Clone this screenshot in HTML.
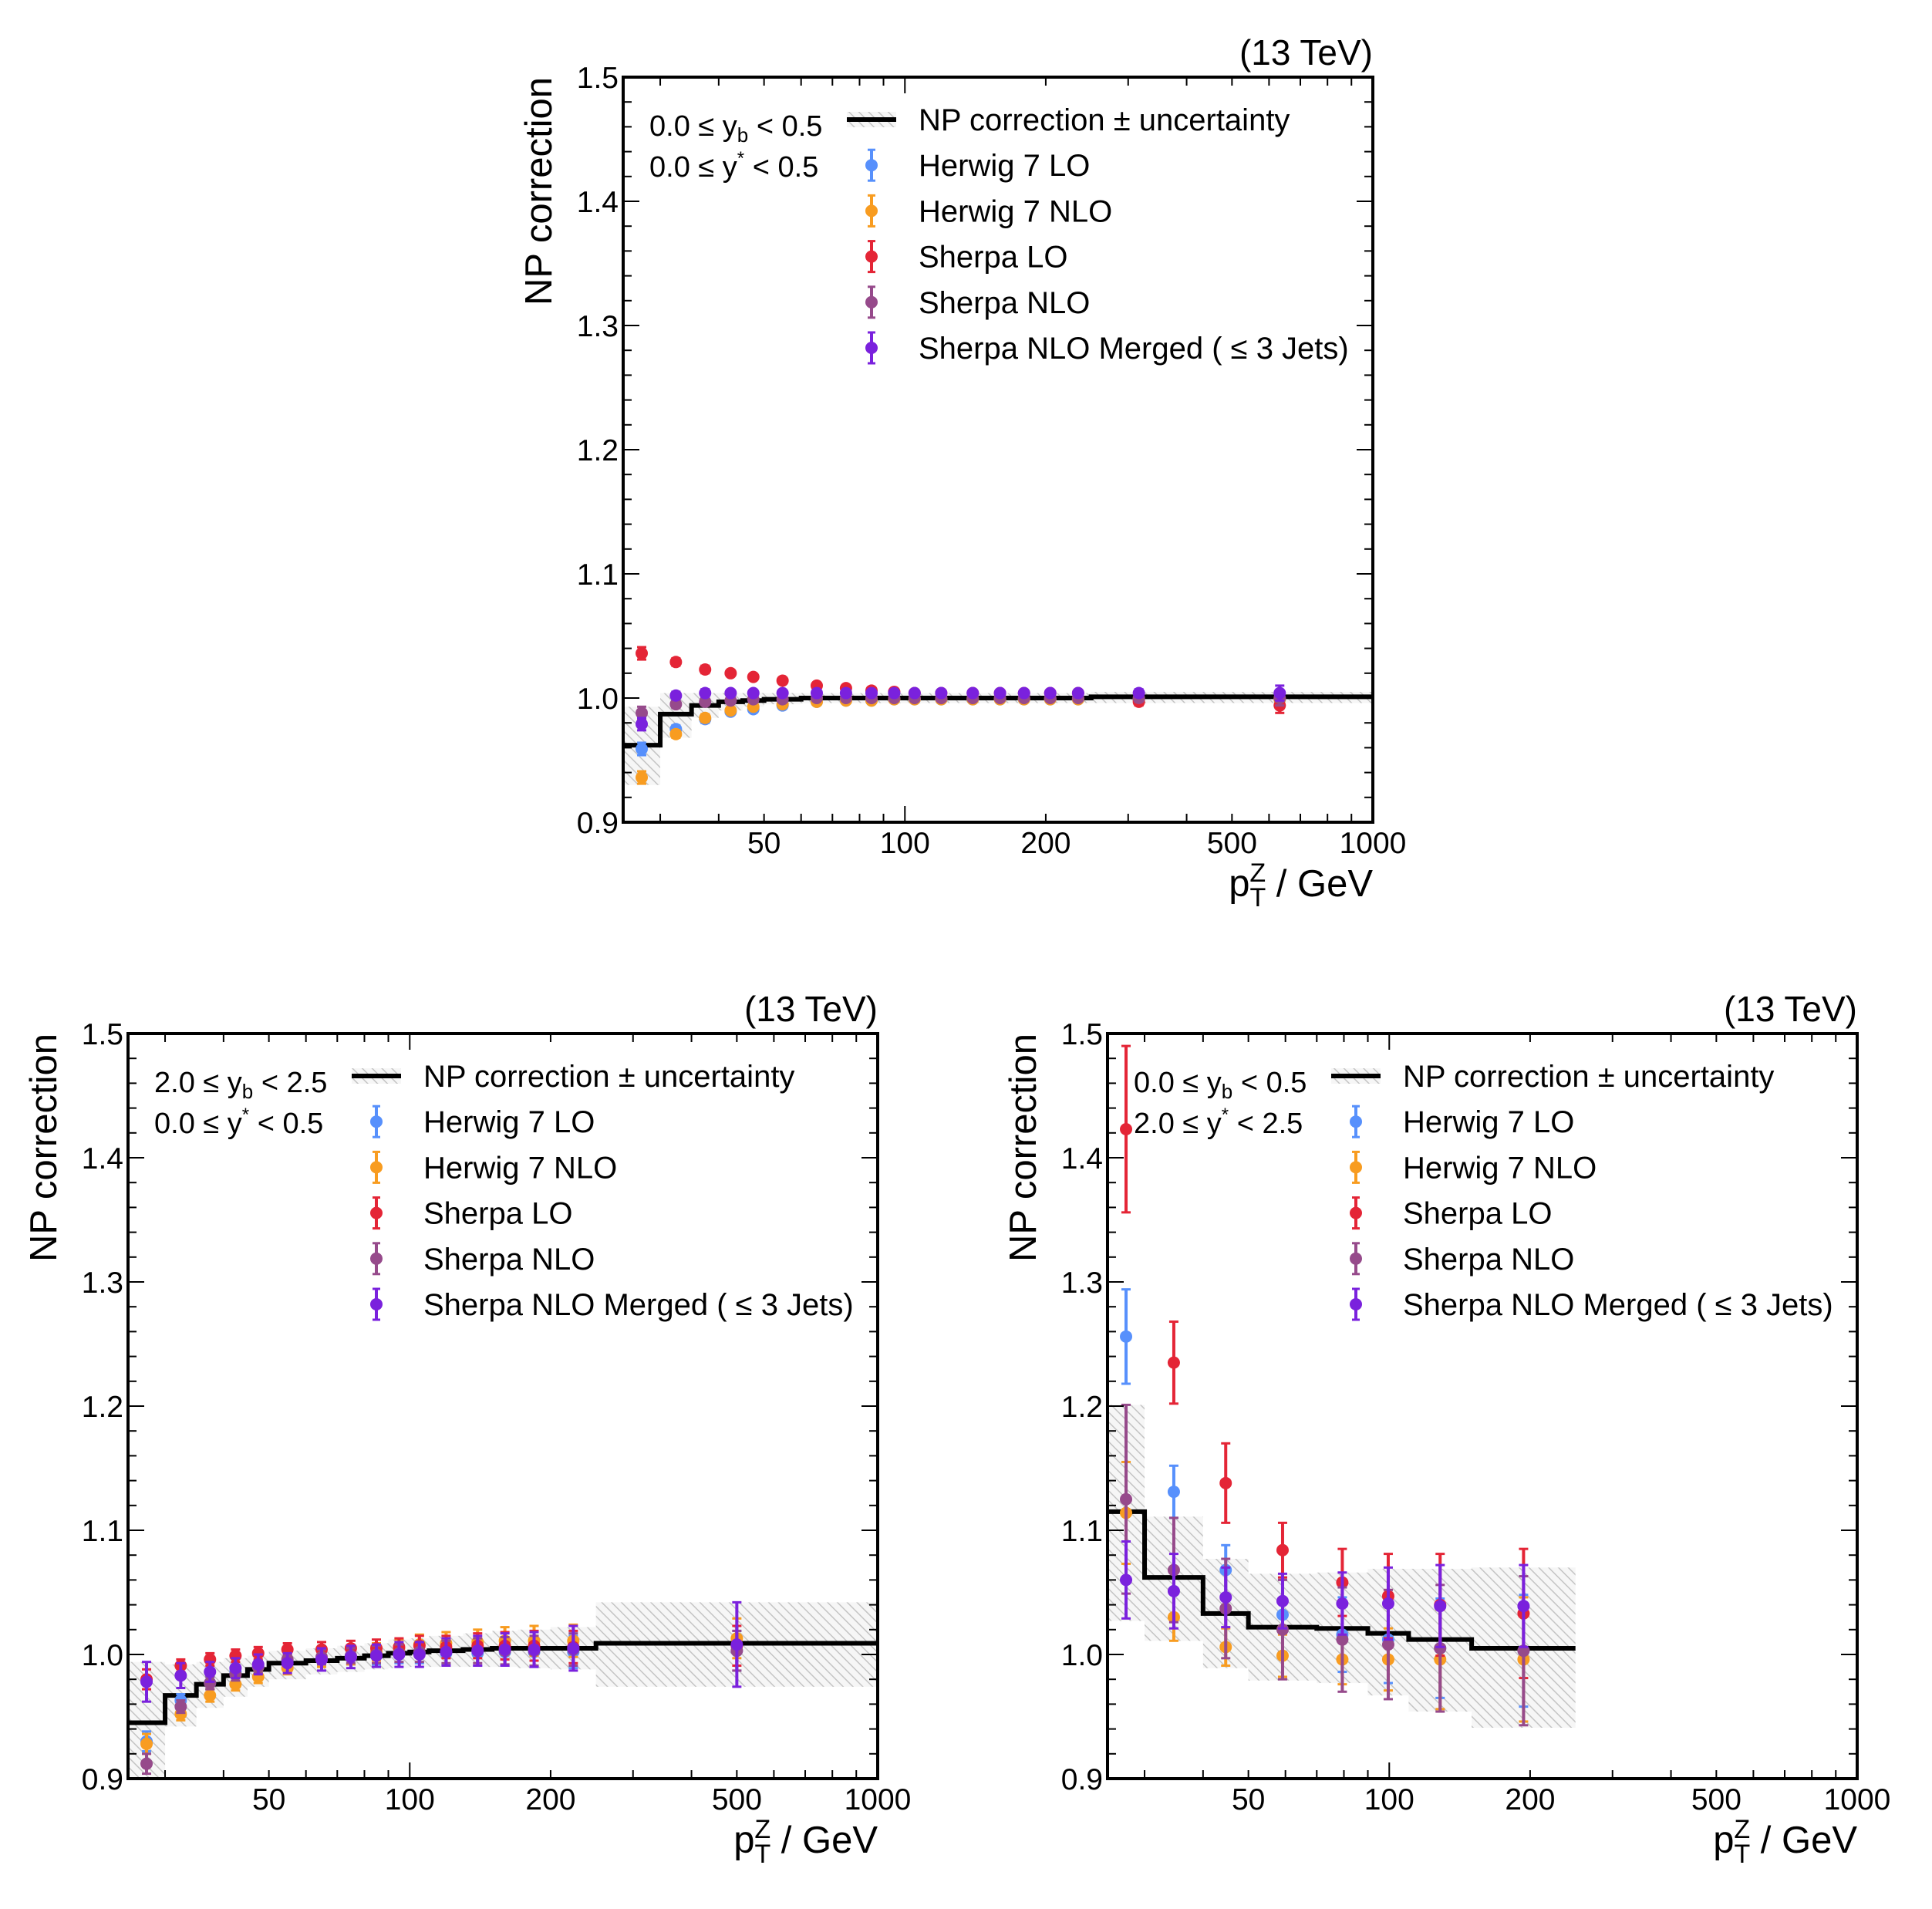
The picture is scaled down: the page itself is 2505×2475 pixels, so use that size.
<!DOCTYPE html>
<html><head><meta charset="utf-8"><style>
html,body{margin:0;padding:0;background:#fff}
svg{display:block}
text{font-family:"Liberation Sans",Arial,sans-serif;fill:#000}
</style></head><body>
<svg id="fig" xmlns="http://www.w3.org/2000/svg" width="2505" height="2475" viewBox="0 0 2505 2475">
<defs>
<pattern id="hatch" patternUnits="userSpaceOnUse" width="9" height="9" patternTransform="rotate(-45)">
<rect width="9" height="9" fill="#f6f6f6"/>
<line x1="0" y1="0" x2="0" y2="9" stroke="#c4c4c4" stroke-width="3"/>
</pattern>
</defs>
</svg>
<script>
// ---------- Panel 1 data (0.0<=yb<0.5, 0.0<=y*<0.5) ----------
const p1Edges = [25,30,35,40,45,50,60,70,80,90,100,110,130,150,170,190,220,250,400,1000];
const p1NP = [0.962,0.987,0.994,0.997,0.998,0.999,1.0,1.0,1.0,1.0,1.0,1.0,1.0,1.0,1.0,1.0,1.0,1.001,1.001];
const p1BandLo = [0.930,0.968,0.984,0.990,0.993,0.995,0.996,0.996,0.996,0.996,0.996,0.996,0.996,0.996,0.996,0.996,0.996,0.996,0.996];
const p1BandHi = [0.993,1.004,1.004,1.004,1.004,1.004,1.004,1.004,1.004,1.004,1.004,1.004,1.004,1.004,1.004,1.004,1.004,1.005,1.005];
const p1HerwigLO = [0.959,0.975,0.983,0.989,0.991,0.994,0.997,0.998,0.998,0.999,0.999,0.999,0.999,0.999,0.999,0.999,0.999,0.999,0.999];
const p1HerwigNLO = [0.936,0.971,0.984,0.990,0.993,0.995,0.997,0.998,0.998,0.999,0.999,0.999,0.999,0.999,0.999,0.999,0.999,0.999,0.999];
const p1SherpaLO = [1.036,1.029,1.023,1.020,1.017,1.014,1.010,1.008,1.006,1.005,1.004,1.004,1.004,1.004,1.004,1.004,1.004,0.997,0.994];
const p1SherpaNLO = [0.988,0.995,0.997,0.998,0.999,0.999,1.0,1.0,1.0,1.0,1.0,1.0,1.0,1.0,1.0,1.0,1.0,1.0,1.0];
const p1Merged = [0.979,1.002,1.004,1.004,1.004,1.004,1.004,1.004,1.004,1.004,1.004,1.004,1.004,1.004,1.004,1.004,1.004,1.004,1.004];
const p1Err = [0.005,0.003,0.003,0.002,0.002,0.002,0.002,0.002,0.002,0.002,0.002,0.002,0.002,0.002,0.002,0.002,0.002,0.003,0.006];

// ---------- Panel 2 data (2.0<=yb<2.5, 0.0<=y*<0.5) ----------
const p2Edges = [25,30,35,40,45,50,60,70,80,90,100,110,130,150,170,200,250,1000];
const p2NP = [0.945,0.967,0.976,0.983,0.988,0.993,0.995,0.997,0.999,1.001,1.002,1.003,1.004,1.005,1.005,1.005,1.009];
const p2BandLo = [0.900,0.942,0.957,0.966,0.974,0.980,0.984,0.986,0.988,0.989,0.990,0.990,0.990,0.990,0.989,0.988,0.974];
const p2BandHi = [0.994,0.992,0.994,0.997,0.999,1.003,1.005,1.007,1.009,1.012,1.013,1.015,1.017,1.019,1.020,1.022,1.042];
const p2HerwigLO = [0.930,0.963,0.977,0.986,0.990,0.995,0.996,0.998,0.999,1.0,1.001,1.001,1.001,1.002,1.002,1.002,1.003];
const p2HerwigNLO = [0.928,0.952,0.967,0.976,0.982,0.989,0.996,0.998,1.002,1.005,1.008,1.009,1.010,1.011,1.011,1.011,1.013];
const p2SherpaLO = [0.980,0.991,0.996,0.999,1.001,1.004,1.004,1.005,1.005,1.006,1.007,1.006,1.007,1.007,1.007,1.006,1.007];
const p2SherpaNLO = [0.912,0.958,0.977,0.984,0.990,0.996,0.998,0.999,1.0,1.001,1.002,1.002,1.003,1.003,1.003,1.004,1.003];
const p2Merged = [0.978,0.983,0.986,0.989,0.992,0.993,0.996,0.998,0.999,1.0,1.0,1.002,1.003,1.004,1.004,1.005,1.008];
const p2Err = [0.008,0.005,0.005,0.005,0.005,0.005,0.006,0.006,0.007,0.007,0.008,0.009,0.010,0.011,0.012,0.013,0.016];
const p2MergedErr = [0.016,0.010,0.008,0.008,0.008,0.008,0.009,0.009,0.009,0.010,0.010,0.011,0.012,0.013,0.014,0.018,0.034];

// ---------- Panel 3 data (0.0<=yb<0.5, 2.0<=y*<2.5) ----------
const p3Edges = [25,30,40,50,70,90,110,150,250];
const p3NP = [1.115,1.062,1.033,1.022,1.021,1.017,1.012,1.005];
const p3BandLo = [1.027,1.011,0.989,0.979,0.977,0.967,0.954,0.941];
const p3BandHi = [1.201,1.111,1.077,1.065,1.066,1.069,1.069,1.070];
const p3HerwigLO = [1.256,1.131,1.068,1.032,1.016,1.012,1.005,1.003];
const p3HerwigLOErr = [0.038,0.021,0.020,0.030,0.030,0.035,0.040,0.045];
const p3HerwigNLO = [1.114,1.030,1.006,0.999,0.996,0.996,0.996,0.996];
const p3HerwigNLOErr = [0.041,0.019,0.015,0.017,0.020,0.025,0.040,0.050];
const p3SherpaLO = [1.423,1.235,1.138,1.084,1.058,1.047,1.040,1.033];
const p3SherpaLOErr = [0.067,0.033,0.032,0.022,0.027,0.034,0.041,0.052];
const p3SherpaNLO = [1.125,1.068,1.037,1.020,1.012,1.008,1.005,1.003];
const p3SherpaNLOErr = [0.076,0.042,0.040,0.040,0.042,0.044,0.051,0.060];
const p3Merged = [1.060,1.051,1.046,1.043,1.041,1.041,1.039,1.039];
const p3MergedErr = [0.031,0.030,0.024,0.022,0.025,0.029,0.033,0.033];

const yTicks = [0.9,1.0,1.1,1.2,1.3,1.4,1.5];
const yTickLabels = ["0.9","1.0","1.1","1.2","1.3","1.4","1.5"];
const xTickVals = [50,100,200,500,1000];
const xTickLabels = ["50","100","200","500","1000"];

const COLORS = {hlo:"#5790fc", hnlo:"#f89c20", slo:"#e42536", snlo:"#964a8b", mrg:"#7a21dd"};
const NS = "http://www.w3.org/2000/svg";
const svg = document.getElementById('fig');

function mk(tag, attrs, parent){
  const e = document.createElementNS(NS, tag);
  for (const k in attrs) e.setAttribute(k, attrs[k]);
  (parent||svg).appendChild(e);
  return e;
}

function panel(id, L, T, cfg){
  const W = 972, H = 966;
  const XMIN = 25, XMAX = 1000, YMIN = 0.9, YMAX = 1.5;
  const sx = v => L + (Math.log10(v) - Math.log10(XMIN)) / (Math.log10(XMAX) - Math.log10(XMIN)) * W;
  const sy = v => T + (YMAX - v) / (YMAX - YMIN) * H;
  const g = mk('g', {});
  
  
  const clipId = id + '-clip';
  const cp = mk('clipPath', {id: clipId}, g);
  mk('rect', {x: L, y: T, width: W, height: H}, cp);
  const plot = mk('g', {'clip-path': 'url(#' + clipId + ')'}, g);
  
  

  const E = cfg.edges;
  for (let i = 0; i < E.length - 1; i++) {
    const r = mk('rect', {x: sx(E[i]), y: sy(cfg.bandHi[i]), width: sx(E[i+1]) - sx(E[i]), height: sy(cfg.bandLo[i]) - sy(cfg.bandHi[i]), fill: 'url(#hatch)'}, plot);
    
    
  }
  let d = '';
  for (let i = 0; i < E.length - 1; i++) {
    d += (i === 0 ? 'M' : 'L') + sx(E[i]) + ',' + sy(cfg.np[i]) + 'L' + sx(E[i+1]) + ',' + sy(cfg.np[i]);
  }
  const st = mk('path', {d: d, fill: 'none', stroke: '#000', 'stroke-width': 6}, plot);
  
  

  cfg.series.forEach(s => {
    const sg = mk('g', {}, plot);
    
    
    for (let i = 0; i < s.vals.length; i++) {
      const xc = Math.sqrt(E[i] * E[i+1]);
      const X = sx(xc), Y = sy(s.vals[i]);
      const er = s.errs[i];
      const y1 = sy(s.vals[i] + er), y2 = sy(s.vals[i] - er);
      mk('line', {x1: X, x2: X, y1: y1, y2: y2, stroke: s.color, 'stroke-width': 4}, sg);
      mk('line', {x1: X - 6, x2: X + 6, y1: y1, y2: y1, stroke: s.color, 'stroke-width': 3}, sg);
      mk('line', {x1: X - 6, x2: X + 6, y1: y2, y2: y2, stroke: s.color, 'stroke-width': 3}, sg);
      const c = mk('circle', {cx: X, cy: Y, r: 8, fill: s.color}, sg);
      
      
    }
  });

  const fr = mk('rect', {x: L, y: T, width: W, height: H, fill: 'none', stroke: '#000', 'stroke-width': 4}, g);
  
  

  for (let k = 0; k <= 30; k++) {
    const v = YMIN + k * 0.02;
    const y = sy(v);
    const len = (k % 5 === 0) ? 21 : 11;
    mk('line', {x1: L, x2: L + len, y1: y, y2: y, stroke: '#000', 'stroke-width': 2}, g);
    mk('line', {x1: L + W - len, x2: L + W, y1: y, y2: y, stroke: '#000', 'stroke-width': 2}, g);
  }
  yTicks.forEach((v, i) => {
    const t = mk('text', {x: L - 6, y: sy(v) + 14, 'font-size': 39, 'text-anchor': 'end'}, g);
    t.textContent = yTickLabels[i];
    
    
  });
  const minor = [30,40,50,60,70,80,90,200,300,400,500,600,700,800,900];
  minor.forEach(v => {
    const x = sx(v);
    mk('line', {x1: x, x2: x, y1: T + H, y2: T + H - 11, stroke: '#000', 'stroke-width': 2}, g);
    mk('line', {x1: x, x2: x, y1: T, y2: T + 11, stroke: '#000', 'stroke-width': 2}, g);
  });
  [100].forEach(v => {
    const x = sx(v);
    mk('line', {x1: x, x2: x, y1: T + H, y2: T + H - 21, stroke: '#000', 'stroke-width': 2}, g);
    mk('line', {x1: x, x2: x, y1: T, y2: T + 21, stroke: '#000', 'stroke-width': 2}, g);
  });
  xTickVals.forEach((v, i) => {
    const t = mk('text', {x: sx(v), y: T + H + 40, 'font-size': 39, 'text-anchor': 'middle'}, g);
    t.textContent = xTickLabels[i];
    
    
  });
  const xt = mk('text', {x: L + W, y: T + H + 96, 'font-size': 49, 'text-anchor': 'end'}, g);
  
  
  xt.innerHTML = 'p<tspan font-size="34" dy="13">T</tspan><tspan font-size="34" dx="-21" dy="-32">Z</tspan><tspan dy="19"> / GeV</tspan>';
  const yt = mk('text', {x: 0, y: 0, 'font-size': 49, 'text-anchor': 'end', transform: 'translate(' + (L - 93) + ',' + T + ') rotate(-90)'}, g);
  yt.textContent = 'NP correction';
  
  
  const el = mk('text', {x: L + W, y: T - 16, 'font-size': 46, 'text-anchor': 'end'}, g);
  el.textContent = '(13 TeV)';
  
  

  const r1 = mk('text', {x: L + 34, y: T + 76, 'font-size': 38}, g);
  r1.innerHTML = cfg.lab1a + ' ≤ y<tspan font-size="26" dy="8">b</tspan><tspan dy="-8"> &lt; ' + cfg.lab1b + '</tspan>';
  
  
  const r2 = mk('text', {x: L + 34, y: T + 129, 'font-size': 38}, g);
  r2.innerHTML = cfg.lab2a + ' ≤ y<tspan font-size="24" dy="-16">*</tspan><tspan dy="16"> &lt; ' + cfg.lab2b + '</tspan>';
  
  

  const lg = mk('g', {}, g);
  
  
  const lx = L + 383, mx = L + 322, row0 = T + 55, step = 59.2;
  const names = ['NP correction ± uncertainty','Herwig 7 LO','Herwig 7 NLO','Sherpa LO','Sherpa NLO','Sherpa NLO Merged ( ≤ 3 Jets)'];
  const cols = [null, COLORS.hlo, COLORS.hnlo, COLORS.slo, COLORS.snlo, COLORS.mrg];
  names.forEach((n, i) => {
    const cy = row0 + i * step;
    const eg = mk('g', {}, lg);
    
    
    if (i === 0) {
      mk('rect', {x: L + 290, y: cy - 10, width: 64, height: 20, fill: 'url(#hatch)'}, eg);
      mk('line', {x1: L + 290, x2: L + 354, y1: cy, y2: cy, stroke: '#000', 'stroke-width': 6}, eg);
    } else {
      mk('line', {x1: mx, x2: mx, y1: cy - 20, y2: cy + 20, stroke: cols[i], 'stroke-width': 4}, eg);
      mk('line', {x1: mx - 5, x2: mx + 5, y1: cy - 20, y2: cy - 20, stroke: cols[i], 'stroke-width': 3}, eg);
      mk('line', {x1: mx - 5, x2: mx + 5, y1: cy + 20, y2: cy + 20, stroke: cols[i], 'stroke-width': 3}, eg);
      mk('circle', {cx: mx, cy: cy, r: 8, fill: cols[i]}, eg);
    }
    const t = mk('text', {x: lx, y: cy + 14, 'font-size': 40}, eg);
    t.textContent = n;
  });
}

panel('panel-central', 808, 100, {
  edges: p1Edges, np: p1NP, bandLo: p1BandLo, bandHi: p1BandHi,
  lab1a: '0.0', lab1b: '0.5', lab2a: '0.0', lab2b: '0.5',
  series: [
    {name: 'herwig-lo-series', color: COLORS.hlo, vals: p1HerwigLO, errs: p1Err},
    {name: 'herwig-nlo-series', color: COLORS.hnlo, vals: p1HerwigNLO, errs: p1Err},
    {name: 'sherpa-lo-series', color: COLORS.slo, vals: p1SherpaLO, errs: p1Err},
    {name: 'sherpa-nlo-series', color: COLORS.snlo, vals: p1SherpaNLO, errs: p1Err},
    {name: 'sherpa-merged-series', color: COLORS.mrg, vals: p1Merged, errs: p1Err}
  ]
});
panel('panel-forward-yb', 166, 1340, {
  edges: p2Edges, np: p2NP, bandLo: p2BandLo, bandHi: p2BandHi,
  lab1a: '2.0', lab1b: '2.5', lab2a: '0.0', lab2b: '0.5',
  series: [
    {name: 'herwig-lo-series', color: COLORS.hlo, vals: p2HerwigLO, errs: p2Err},
    {name: 'herwig-nlo-series', color: COLORS.hnlo, vals: p2HerwigNLO, errs: p2Err},
    {name: 'sherpa-lo-series', color: COLORS.slo, vals: p2SherpaLO, errs: p2Err},
    {name: 'sherpa-nlo-series', color: COLORS.snlo, vals: p2SherpaNLO, errs: p2Err},
    {name: 'sherpa-merged-series', color: COLORS.mrg, vals: p2Merged, errs: p2MergedErr}
  ]
});
panel('panel-forward-ystar', 1436, 1340, {
  edges: p3Edges, np: p3NP, bandLo: p3BandLo, bandHi: p3BandHi,
  lab1a: '0.0', lab1b: '0.5', lab2a: '2.0', lab2b: '2.5',
  series: [
    {name: 'herwig-lo-series', color: COLORS.hlo, vals: p3HerwigLO, errs: p3HerwigLOErr},
    {name: 'herwig-nlo-series', color: COLORS.hnlo, vals: p3HerwigNLO, errs: p3HerwigNLOErr},
    {name: 'sherpa-lo-series', color: COLORS.slo, vals: p3SherpaLO, errs: p3SherpaLOErr},
    {name: 'sherpa-nlo-series', color: COLORS.snlo, vals: p3SherpaNLO, errs: p3SherpaNLOErr},
    {name: 'sherpa-merged-series', color: COLORS.mrg, vals: p3Merged, errs: p3MergedErr}
  ]
});
</script>
</body></html>
